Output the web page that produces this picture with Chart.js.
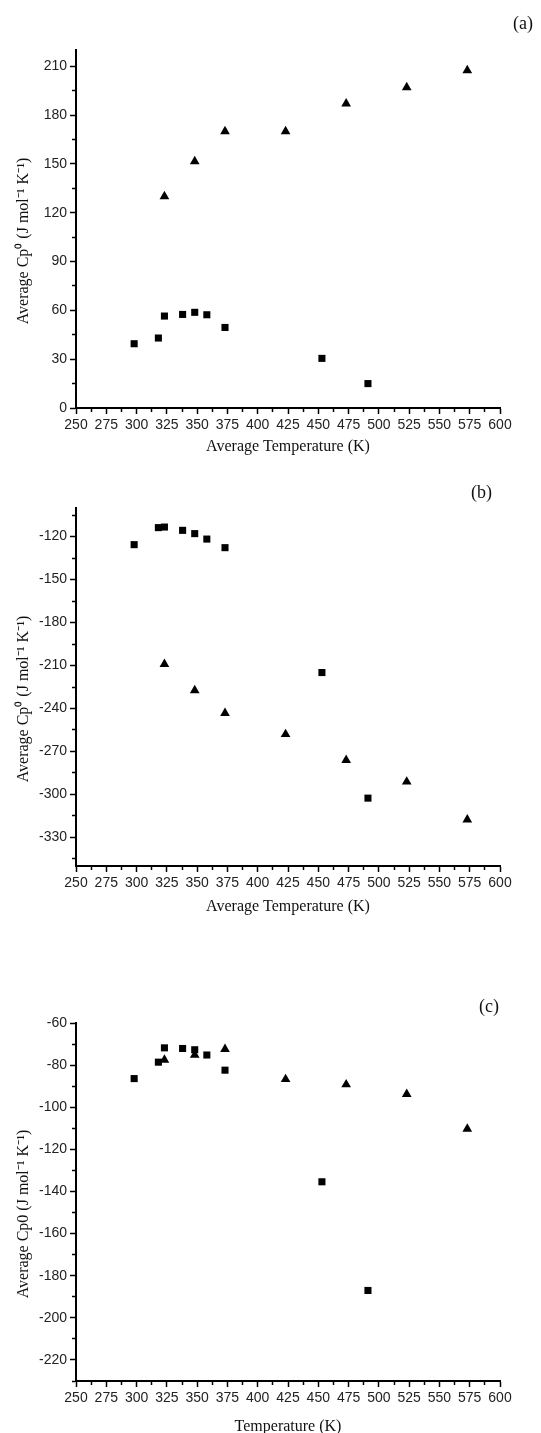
<!DOCTYPE html>
<html>
<head>
<meta charset="utf-8">
<title>Average Cp0 vs temperature</title>
<script src="https://cdn.jsdelivr.net/npm/chart.js@4/dist/chart.umd.min.js"></script>
<style>
  html, body { margin: 0; padding: 0; background: #fff; overflow: hidden; }
  .panel { position: absolute; left: 0; width: 541px; }
  .panel canvas { display: block; }
  .tag {
    position: absolute;
    font-family: 'Liberation Serif', 'Times New Roman', serif;
    font-size: 18px;
    line-height: 18px;
    color: #111;
  }
</style>
</head>
<body>

<div class="panel" style="top:0px"><canvas id="chartA" width="541" height="460"></canvas></div>
<div class="panel" style="top:460px"><canvas id="chartB" width="541" height="460"></canvas></div>
<div class="panel" style="top:973px"><canvas id="chartC" width="541" height="470"></canvas></div>

<div class="tag" style="left:513px; top:14px">(a)</div>
<div class="tag" style="left:471px; top:483px">(b)</div>
<div class="tag" style="left:479px; top:997px">(c)</div>

<script>
// ── data ───────────────────────────────────────
const tempSquares   = [298, 318, 323, 338, 348, 358, 373, 453, 491];
const tempTriangles = [323, 348, 373, 423, 473, 523, 573];

const squaresA   = [39.5, 43, 56.5, 57.5, 58.8, 57.3, 49.5, 30.5, 15];
const trianglesA = [130, 151.5, 170, 170, 187, 197, 207.5];

const squaresB   = [-125.6, -113.7, -113.3, -115.6, -117.9, -121.7, -127.7, -214.9, -302.6];
const trianglesB = [-209, -227.4, -243.3, -258, -276.1, -291.2, -317.6];

const squaresC   = [-86.4, -78.6, -71.8, -72.1, -72.7, -75.2, -82.4, -135.4, -187];
const trianglesC = [-77.5, -75.2, -72.4, -86.7, -89.2, -93.8, -110.3];

// labelled ticks; the unlabelled half-steps between them are minor ticks
const xTicks  = [250, 275, 300, 325, 350, 375, 400, 425, 450, 475, 500, 525, 550, 575, 600];
const yTicksA = [0, 30, 60, 90, 120, 150, 180, 210];
const yTicksB = [-330, -300, -270, -240, -210, -180, -150, -120];
const yTicksC = [-220, -200, -180, -160, -140, -120, -100, -80, -60];

const tickFont  = { family: 'Liberation Sans', size: 14 };
const titleFont = { family: 'Liberation Serif', size: 16 };

function pts(xs, ys) {
  return xs.map((x, i) => ({ x: x, y: ys[i] }));
}

function drawPanel(id, cfg) {
  const majorX = v => xTicks.includes(v);
  const majorY = v => cfg.yTicks.includes(v);

  new Chart(document.getElementById(id), {
    type: 'scatter',
    data: {
      datasets: [
        {
          data: pts(tempSquares, cfg.squares),
          pointStyle: 'rect',
          pointRadius: 5,
          backgroundColor: '#000',
          borderWidth: 0
        },
        {
          data: pts(tempTriangles, cfg.triangles),
          pointStyle: 'triangle',
          pointRadius: 5.6,
          backgroundColor: '#000',
          borderWidth: 0
        }
      ]
    },
    options: {
      responsive: false,
      animation: false,
      events: [],
      layout: { padding: { top: cfg.top, right: 41, left: 0, bottom: 0 } },
      plugins: {
        legend: { display: false },
        tooltip: { enabled: false }
      },
      scales: {
        x: {
          type: 'linear',
          min: 250,
          max: 600,
          afterFit: s => { s.height = cfg.xHeight; },
          border: { display: true, color: '#000', width: 2 },
          grid: {
            drawOnChartArea: false,
            tickLength: 6,
            tickColor: '#000',
            tickWidth: 1.5,
            tickBorderDash: ctx => (ctx.tick && !majorX(ctx.tick.value)) ? [3, 20] : []
          },
          ticks: {
            stepSize: 12.5,
            includeBounds: false,
            autoSkip: false,
            maxRotation: 0,
            padding: 3,
            color: '#222',
            font: tickFont,
            callback: v => majorX(v) ? v : ''
          },
          title: {
            display: true,
            text: cfg.xTitle,
            color: '#111',
            font: titleFont,
            padding: { top: 0, bottom: cfg.xTitlePad }
          }
        },
        y: {
          type: 'linear',
          min: cfg.yMin,
          max: cfg.yMax,
          afterFit: s => { s.width = 76; },
          border: { display: true, color: '#000', width: 2 },
          grid: {
            drawOnChartArea: false,
            tickLength: 6,
            tickColor: '#000',
            tickWidth: 1.5,
            tickBorderDash: ctx => (ctx.tick && !majorY(ctx.tick.value)) ? [0, 2, 3, 20] : []
          },
          ticks: {
            stepSize: cfg.yStep / 2,
            includeBounds: false,
            autoSkip: false,
            padding: 3,
            color: '#222',
            font: tickFont,
            callback: v => majorY(v) ? v : ''
          },
          title: {
            display: true,
            // trailing spaces nudge the rotated label down, as in the original
            text: cfg.yTitle + '      ',
            color: '#111',
            font: titleFont,
            padding: { top: 14, bottom: 0 }
          }
        }
      }
    }
  });
}

// ── (a) ────────────────────────────────────────
drawPanel('chartA', {
  squares: squaresA, triangles: trianglesA, yTicks: yTicksA,
  yMin: 0, yMax: 220, yStep: 30,
  top: 50, xHeight: 52, xTitlePad: 4,
  xTitle: 'Average Temperature (K)',
  yTitle: 'Average Cp\u2070 (J mol\u207B\u00B9 K\u207B\u00B9)'
});

// ── (b) ────────────────────────────────────────
drawPanel('chartB', {
  squares: squaresB, triangles: trianglesB, yTicks: yTicksB,
  yMin: -350, yMax: -100, yStep: 30,
  top: 48, xHeight: 54, xTitlePad: 4,
  xTitle: 'Average Temperature (K)',
  yTitle: 'Average Cp\u2070 (J mol\u207B\u00B9 K\u207B\u00B9)'
});

// ── (c) ────────────────────────────────────────
drawPanel('chartC', {
  squares: squaresC, triangles: trianglesC, yTicks: yTicksC,
  yMin: -230, yMax: -60, yStep: 20,
  top: 50, xHeight: 62, xTitlePad: 7,
  xTitle: 'Temperature (K)',
  yTitle: 'Average Cp0 (J mol\u207B\u00B9 K\u207B\u00B9)'
});
</script>
</body>
</html>
